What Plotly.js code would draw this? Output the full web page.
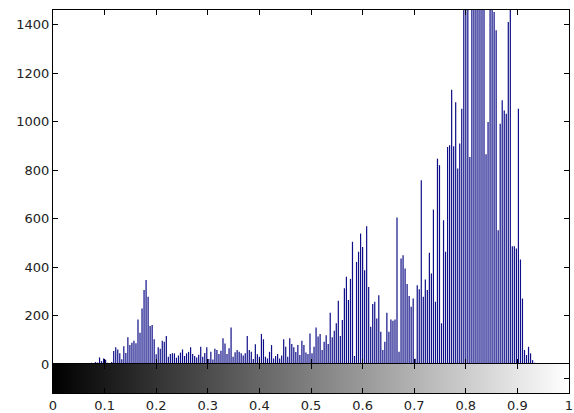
<!DOCTYPE html>
<html>
<head>
<meta charset="utf-8">
<script src="https://cdn.plot.ly/plotly-3.0.1.min.js"></script>
<style>html,body{margin:0;padding:0;background:#fff;}#chart{width:574px;height:413px;}</style>
</head>
<body>
<div id="chart"></div>
<script>
// histogram counts for 256 intensity bins
const counts = [
  0,0,0,0,0,0,0,0,0,3,
  2,0,0,0,0,0,0,0,2,5,
  4,8,6,27,12,23,18,5,3,8,
  54,69,60,44,20,73,45,110,78,88,
  96,86,184,129,229,305,346,277,157,161,
  102,40,69,63,96,92,115,30,41,44,
  44,26,35,47,60,33,44,50,69,41,
  33,27,38,71,30,45,69,21,51,19,
  63,58,41,55,106,85,41,65,151,30,
  48,58,51,44,35,44,115,58,51,21,
  81,40,30,124,102,30,23,50,78,23,
  33,41,23,35,102,71,30,106,82,69,
  50,78,37,96,78,47,41,126,44,71,
  151,113,124,58,92,119,82,211,110,137,
  168,261,115,181,312,360,264,351,504,33,
  421,463,538,483,387,568,318,154,247,257,
  188,284,133,58,92,211,133,184,178,184,
  604,51,435,449,394,330,280,236,270,22,
  325,308,758,277,349,305,459,373,637,257,
  847,820,168,593,463,895,902,1131,898,1080,
  806,909,1053,1800,1700,1650,854,1600,1750,1550,
  1700,1600,1500,1650,865,998,1700,1600,1452,1376,
  552,991,1088,1046,1032,1410,1700,486,486,476,
  1053,431,270,58,37,71,44,16,5,0,
  0,0,0,0,0,0,0,0,0,0,
  0,0,3,0,0,0
];
const nBins = counts.length;
const binCenters = counts.map((_, i) => i / (nBins - 1));
const grayLevels = binCenters.slice();
const xTicks = [0, 0.1, 0.2, 0.3, 0.4, 0.5, 0.6, 0.7, 0.8, 0.9, 1];
const xTickText = ['0', '0.1', '0.2', '0.3', '0.4', '0.5', '0.6', '0.7', '0.8', '0.9', '1'];
const yTicks = [0, 200, 400, 600, 800, 1000, 1200, 1400];

// stem segments built from the data arrays
const stemX = [], stemY = [];
binCenters.forEach((x, i) => {
  if (counts[i] > 0) { stemX.push(x, x, null); stemY.push(0, counts[i], null); }
});

const font = {family: 'DejaVu Sans, sans-serif', size: 13, color: '#222'};

const traces = [
  {
    type: 'scatter', mode: 'lines', x: stemX, y: stemY,
    line: {color: '#0e0e88', width: 1.2},
    xaxis: 'x', yaxis: 'y', hoverinfo: 'skip', cliponaxis: true
  },
  {
    type: 'heatmap', x: binCenters, y: [0.5], z: [grayLevels],
    colorscale: [[0, '#000000'], [1, '#ffffff']], zmin: 0, zmax: 1,
    showscale: false, xaxis: 'x2', yaxis: 'y2', hoverinfo: 'skip'
  }
];

const cbFrac = 29 / 383;
const axisCommon = {
  showline: true, linecolor: '#000', linewidth: 1, mirror: 'ticks',
  ticks: 'inside', ticklen: 5, tickcolor: '#000', tickwidth: 1,
  showgrid: false, zeroline: false, tickfont: font, fixedrange: true
};

const layout = {
  width: 574, height: 413,
  margin: {l: 53, r: 5, t: 10, b: 20, pad: 0},
  paper_bgcolor: '#fff', plot_bgcolor: '#fff',
  showlegend: false,
  xaxis: Object.assign({}, axisCommon, {
    domain: [0, 1], range: [0, 1], anchor: 'y',
    tickvals: xTicks, showticklabels: false
  }),
  yaxis: Object.assign({}, axisCommon, {
    domain: [cbFrac, 1], range: [0, 1460], anchor: 'x',
    tickvals: yTicks, ticktext: yTicks.map(String)
  }),
  xaxis2: Object.assign({}, axisCommon, {
    domain: [0, 1], range: [0, 1], anchor: 'y2',
    tickvals: xTicks, ticktext: xTickText
  }),
  yaxis2: Object.assign({}, axisCommon, {
    domain: [0, cbFrac], range: [0, 1], anchor: 'x2',
    tickvals: [0.5], showticklabels: false
  })
};

Plotly.newPlot('chart', traces, layout, {staticPlot: true, displayModeBar: false});
</script>
</body>
</html>
